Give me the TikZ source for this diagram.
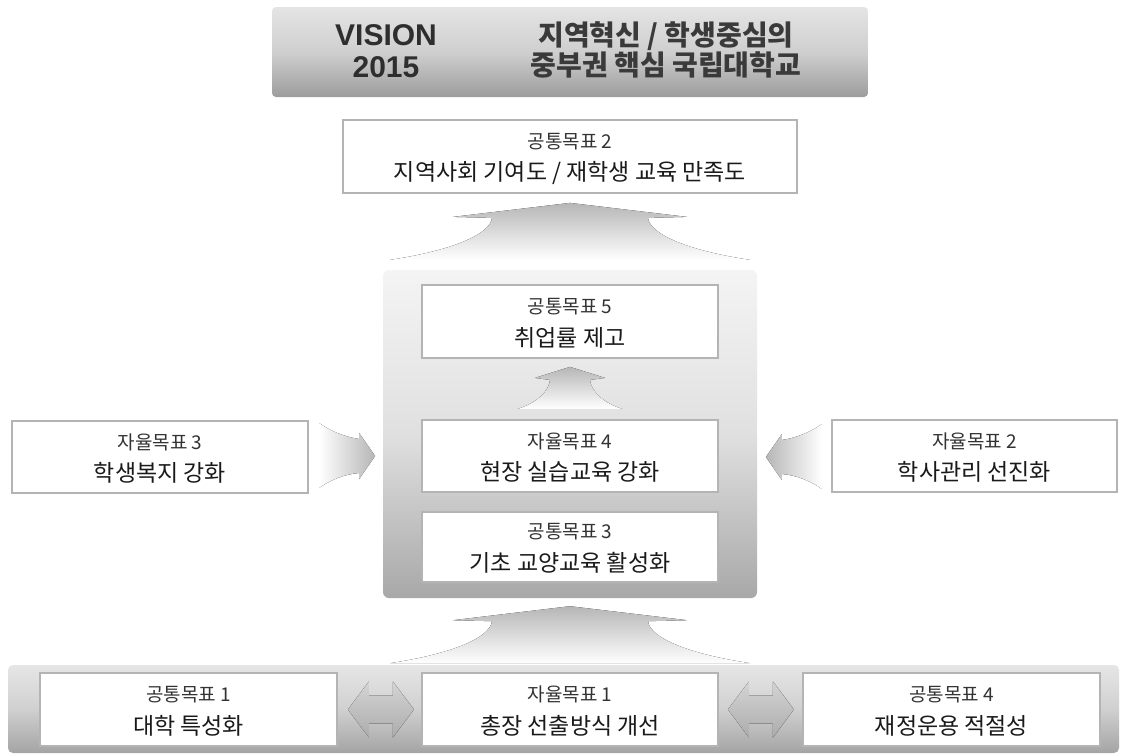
\documentclass[tikz,border=0pt]{standalone}
\usepackage{fontspec}
\setmainfont{Noto Sans CJK KR}
\newfontfamily\latinsans{Liberation Sans}
\usetikzlibrary{calc}
\definecolor{boxline}{HTML}{B4B4B4}
\definecolor{txt}{HTML}{1A1A1A}
\definecolor{txtsoft}{HTML}{333333}
\definecolor{vistxt}{HTML}{2E2E2E}
\definecolor{viskr}{HTML}{3A3A3A}
\definecolor{arrgray}{HTML}{B6B6B6}
\definecolor{visTop}{HTML}{E4E4E4}
\definecolor{visMid}{HTML}{CFCFCF}
\definecolor{visBot}{HTML}{9C9C9C}
\definecolor{panTop}{HTML}{F4F4F4}
\definecolor{panMid}{HTML}{E0E0E0}
\definecolor{panBot}{HTML}{A8A8A8}
\definecolor{bandTop}{HTML}{E6E6E6}
\definecolor{bandMid}{HTML}{D0D0D0}
\definecolor{bandBot}{HTML}{A4A4A4}
\definecolor{dblTop}{HTML}{D4D4D4}
\definecolor{dblBot}{HTML}{ACACAC}
\newcommand\goaltext[3]{%
  \node[lineone] (#1a) at ($(#1.center)+(0,-15)$) {#2};
  \node[linetwo] (#1b) at ($(#1.center)+(0,16)$) {#3};}
\begin{document}
\begin{tikzpicture}[x=1pt,y=-1pt,
  goalbox/.style={draw=boxline,line width=1.8pt,fill=white,inner sep=0pt},
  lineone/.style={font=\fontsize{19}{19}\selectfont,text=txtsoft,inner sep=0pt},
  linetwo/.style={font=\fontsize{23}{23}\selectfont,text=txt,inner sep=0pt},
  bigup/.pic={\fill[top color=arrgray,bottom color=white]
     (0,0) -- (117,14) -- (78,15) .. controls (80,32) and (120,48) .. (180,57)
     -- (-180,57) .. controls (-120,48) and (-80,32) .. (-78,15) -- (-117,14) -- cycle;},
  smallup/.pic={\fill[top color=arrgray,bottom color=white]
     (0,0) -- (35,11) -- (20,13) .. controls (21,24) and (33,36) .. (52,42)
     -- (-52,42) .. controls (-33,36) and (-21,24) .. (-20,13) -- (-35,11) -- cycle;},
  rightarr/.pic={\fill[left color=white,right color=arrgray]
     (0,0) -- (-16,-23) -- (-16,-17) .. controls (-30,-19) and (-45,-25) .. (-56,-33)
     -- (-56,32) .. controls (-45,24) and (-30,18) .. (-16,17) -- (-16,23) -- cycle;},
  leftarr/.pic={\fill[left color=arrgray,right color=white]
     (0,0) -- (16,-23) -- (16,-17) .. controls (30,-19) and (45,-25) .. (56,-33)
     -- (56,32) .. controls (45,24) and (30,18) .. (16,17) -- (16,23) -- cycle;},
  dblarr/.pic={\fill[top color=dblTop,bottom color=dblBot]
     (0,0) -- (21,-28) -- (21,-14) -- (45,-14) -- (45,-28) -- (66,0)
     -- (45,28) -- (45,14) -- (21,14) -- (21,28) -- cycle;}
]
\useasboundingbox (0,0) rectangle (1125,753);
\fill[white] (0,0) rectangle (1125,753);

% vision banner
\node[rounded corners=4pt,top color=visTop,bottom color=visBot,middle color=visMid,
      minimum width=596pt,minimum height=90pt,inner sep=0pt] (vision) at (570,52) {};
\node[font=\latinsans\bfseries\fontsize{30}{32}\selectfont,text=vistxt,align=center]
  (vis1) at (386,51) {VISION\\2015};
\node[font=\bfseries\fontsize{28}{30}\selectfont,text=viskr,align=center]
  (vis2) at (666,50) {지역혁신 / 학생중심의\\중부권 핵심 국립대학교};

% common goal 2
\node[goalbox,minimum width=454pt,minimum height=73pt] (b2) at (570,156.5) {};
\goaltext{b2}{공통목표 2}{지역사회 기여도 / 재학생 교육 만족도}

% central panel
\node[rounded corners=6pt,top color=panTop,bottom color=panBot,middle color=panMid,
      minimum width=374pt,minimum height=328pt,inner sep=0pt] (panel) at (570,434) {};
\pic at ($(b2.south)+(0,9)$) {bigup};

\node[goalbox,minimum width=296pt,minimum height=73pt] (b5) at (570,321.5) {};
\goaltext{b5}{공통목표 5}{취업률 제고}
\node[goalbox,minimum width=296pt,minimum height=72pt] (b4) at (570,456) {};
\goaltext{b4}{자율목표 4}{현장 실습교육 강화}
\node[goalbox,minimum width=296pt,minimum height=70pt] (b3) at (570,547) {};
\goaltext{b3}{공통목표 3}{기초 교양교육 활성화}
\pic at ($(b5.south)+(0,8)$) {smallup};

% side goals
\node[goalbox,minimum width=296pt,minimum height=72pt] (sl) at (160,457) {};
\goaltext{sl}{자율목표 3}{학생복지 강화}
\node[goalbox,minimum width=285pt,minimum height=72pt] (sr) at (974.5,456) {};
\goaltext{sr}{자율목표 2}{학사관리 선진화}
\pic at ($(b4.west)+(-46,0)$) {rightarr};
\pic at ($(b4.east)+(47,1)$) {leftarr};

% bottom band
\node[rounded corners=5pt,top color=bandTop,bottom color=bandBot,middle color=bandMid,
      minimum width=1111pt,minimum height=88pt,inner sep=0pt] (band) at (563.5,709) {};
\pic at ($(panel.south)+(0,8)$) {bigup};
\node[goalbox,minimum width=297pt,minimum height=73pt] (g1) at (188.5,709.5) {};
\goaltext{g1}{공통목표 1}{대학 특성화}
\node[goalbox,minimum width=296pt,minimum height=73pt] (a1) at (570,709.5) {};
\goaltext{a1}{자율목표 1}{총장 선출방식 개선}
\node[goalbox,minimum width=297pt,minimum height=73pt] (g4) at (951.5,709.5) {};
\goaltext{g4}{공통목표 4}{재정운용 적절성}
\pic at ($(g1.east)+(10,0)$) {dblarr};
\pic at ($(a1.east)+(9,0)$) {dblarr};
\end{tikzpicture}
\end{document}
